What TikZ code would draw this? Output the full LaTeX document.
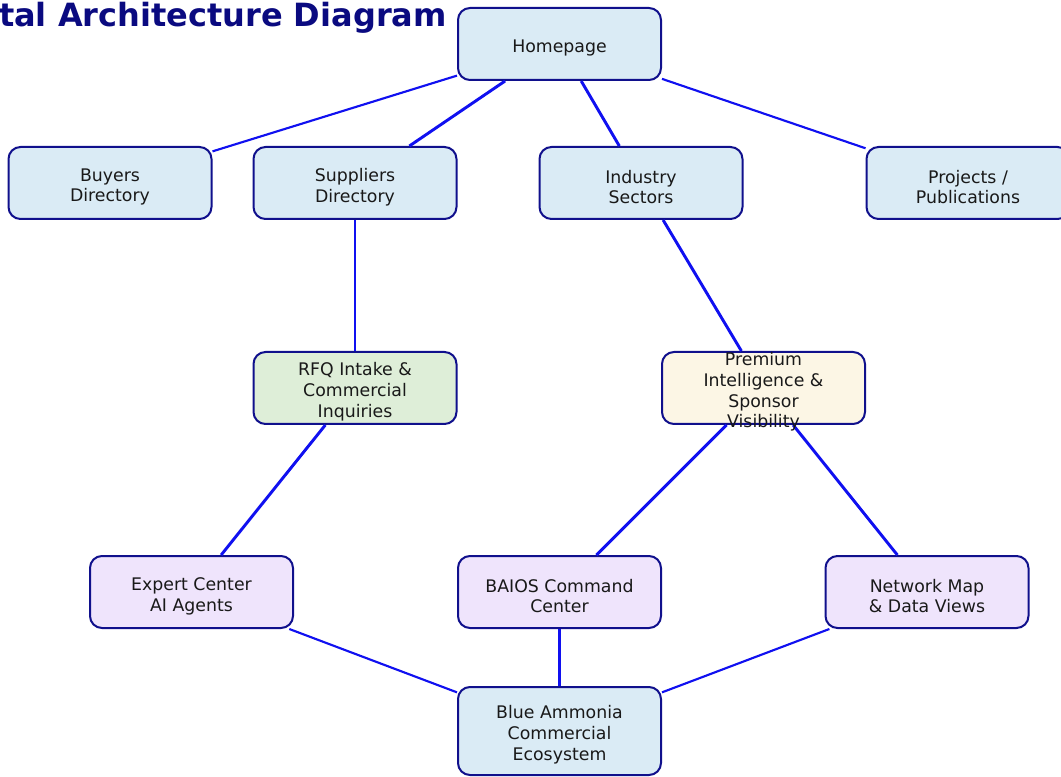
\documentclass[tikz,border=0pt]{standalone}
\usepackage{fontspec}
\setmainfont{DejaVu Sans}
\definecolor{bluefill}{HTML}{DAEBF5}
\definecolor{greenfill}{HTML}{DEEED8}
\definecolor{creamfill}{HTML}{FCF6E5}
\definecolor{purplefill}{HTML}{EFE4FC}
\definecolor{navyline}{HTML}{10108C}
\definecolor{edgeblue}{HTML}{1010F0}
\definecolor{titlenavy}{HTML}{0A0A80}
\tikzset{
  box/.style={draw=navyline, line width=1.5pt, rounded corners=9pt,
    minimum width=152.25pt, minimum height=54pt, inner sep=0pt},
  txt/.style={align=center, font=\fontsize{13}{15.6}\selectfont, text=black!90, inner sep=0pt, yshift=-3pt},
  thickedge/.style={draw=edgeblue, line width=2.2pt},
  thinedge/.style={draw=edgeblue, line width=1.6pt},
}
\begin{document}
\begin{tikzpicture}[x=0.75pt,y=-0.75pt]
\useasboundingbox (0,0) rectangle (1061,777);
\clip (0,0) rectangle (1061,777);
\node[anchor=base east, font=\fontsize{24}{28}\selectfont\bfseries, text=titlenavy, inner sep=0pt] (title) at (447,27) {tal Architecture Diagram};

\node[box, fill=bluefill] (home) at (559.5,44) {};
\node[box, fill=bluefill] (buyers) at (110,183) {};
\node[box, fill=bluefill] (suppliers) at (355,183) {};
\node[box, fill=bluefill] (industry) at (641,183) {};
\node[box, fill=bluefill] (projects) at (968,183) {};
\node[box, fill=greenfill] (rfq) at (355,388) {};
\node[box, fill=creamfill] (premium) at (763.5,388) {};
\node[box, fill=purplefill] (expert) at (191.5,592) {};
\node[box, fill=purplefill] (baios) at (559.5,592) {};
\node[box, fill=purplefill] (network) at (927,592) {};
\node[box, fill=bluefill, minimum height=66pt] (blue) at (559.5,731) {};

\draw[thinedge] (home) -- (buyers);
\draw[thickedge] (home) -- (suppliers);
\draw[thickedge] (home) -- (industry);
\draw[thinedge] (home) -- (projects);
\draw[thinedge] (suppliers) -- (rfq);
\draw[thickedge] (industry) -- (premium);
\draw[thickedge] (rfq) -- (expert);
\draw[thickedge] (premium) -- (baios);
\draw[thickedge] (premium) -- (network);
\draw[thinedge] (expert) -- (blue);
\draw[thinedge] (baios) -- (blue);
\draw[thinedge] (network) -- (blue);

\node[txt] (hometext) at (home.center) {Homepage};
\node[txt] (buyerstext) at (buyers.center) {Buyers\\Directory};
\node[txt] (supplierstext) at (suppliers.center) {Suppliers\\Directory};
\node[txt] (industrytext) at (industry.center) {Industry\\Sectors};
\node[txt] (projectstext) at (projects.center) {Projects /\\Publications};
\node[txt] (rfqtext) at (rfq.center) {RFQ Intake \&\\Commercial\\Inquiries};
\node[txt] (premiumtext) at (premium.center) {Premium\\Intelligence \&\\Sponsor\\Visibility};
\node[txt] (experttext) at (expert.center) {Expert Center\\AI Agents};
\node[txt] (baiostext) at (baios.center) {BAIOS Command\\Center};
\node[txt] (networktext) at (network.center) {Network Map\\\& Data Views};
\node[txt] (bluetext) at (blue.center) {Blue Ammonia\\Commercial\\Ecosystem};
\end{tikzpicture}
\end{document}
